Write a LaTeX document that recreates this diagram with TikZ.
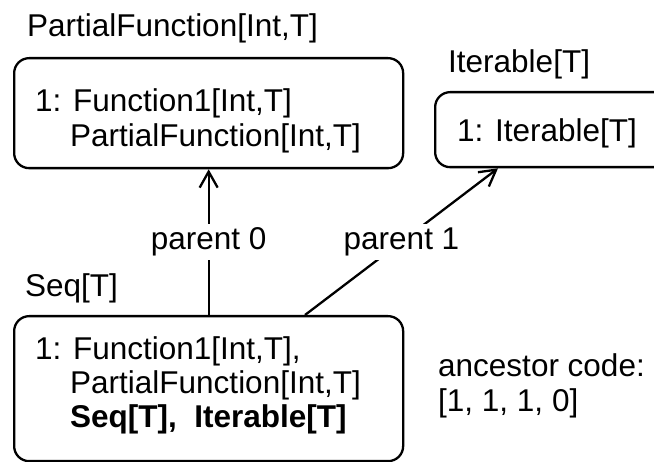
\documentclass[tikz,border=0pt]{standalone}
\usepackage{fontspec}
\setmainfont{Liberation Sans}
\usetikzlibrary{arrows.meta,calc}
\begin{document}
\begin{tikzpicture}[x=1pt,y=-1pt,
  every node/.style={font=\fontsize{31.5}{34}\selectfont},
  box/.style={draw, line width=2.3pt, rounded corners=15pt, inner sep=0pt, anchor=north west},
  txt/.style={anchor=base west, inner sep=0pt},
  arr/.style={line width=2.3pt, -{Straight Barb[length=16pt,width=18pt,line width=2.3pt]}},
  lab/.style={fill=white, inner sep=4pt}]
\useasboundingbox (0,0) rectangle (654,462);
% boxes
\node[box, minimum width=389pt, minimum height=110pt] (A) at (13,57) {};
\node[box, minimum width=240pt, minimum height=75pt] (B) at (434,91) {};
\node[box, minimum width=389pt, minimum height=145pt] (C) at (13,315) {};
% titles
\node[txt] (tA) at (27,37) {PartialFunction[Int,T]};
\node[txt] (tB) at (448,73) {Iterable[T]};
\node[txt] (tC) at (25,297) {Seq[T]};
% contents A
\node[txt] (a1) at (35,112) {1: Function1[Int,T]};
\node[txt] (a2) at (70,147) {PartialFunction[Int,T]};
% contents B
\node[txt] (b1t) at (457,142) {1: Iterable[T]};
% contents C
\node[txt] (c1t) at (35,360) {1: Function1[Int,T],};
\node[txt] (c2t) at (70,394) {PartialFunction[Int,T]};
\node[txt] (c3t) at (70,428) {\bfseries Seq[T],\ \ Iterable[T]};
% ancestor code
\node[txt] (an1) at (438,377) {ancestor code:};
\node[txt] (an2) at (438,412) {[1, 1, 1, 0]};
% connectors
\coordinate (cs) at ($(C.north west)+(292,0)$);
\coordinate (be) at ($(B.south west)+(64,0)$);
\draw[arr] (C.north) -- node[lab] (p0) {parent 0} (A.south);
\draw[arr] (cs) -- node[lab] (p1) {parent 1} (be);
\end{tikzpicture}
\end{document}
